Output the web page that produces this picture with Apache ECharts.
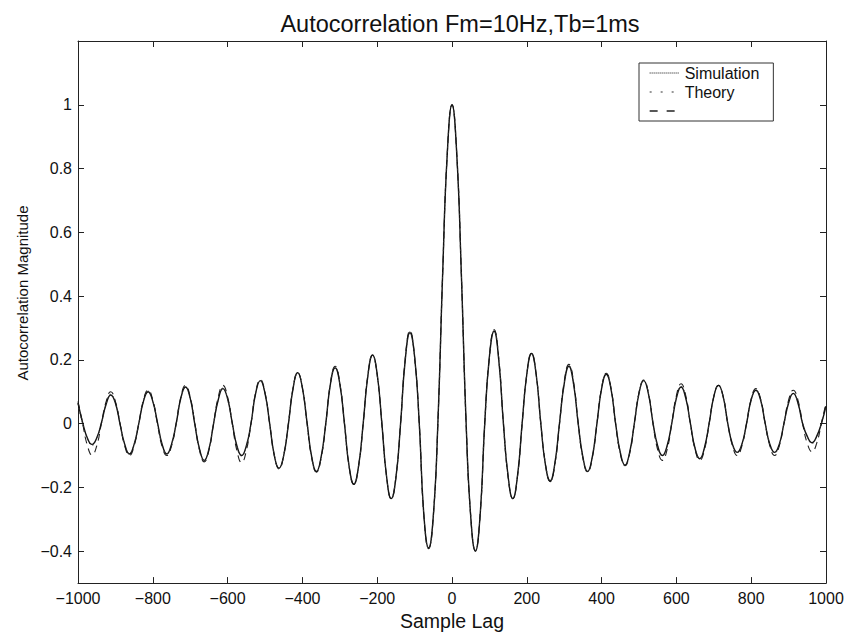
<!DOCTYPE html>
<html>
<head>
<meta charset="utf-8">
<script src="https://cdn.jsdelivr.net/npm/echarts@6/dist/echarts.min.js"></script>
<style>
  html, body { margin: 0; padding: 0; background: #fff; }
  #chart { width: 847px; height: 636px; }
</style>
</head>
<body>
<div id="chart"></div>
<script>
// Sample lags (x grid, 12.5-sample spacing) from -1000 to 1000
const lags = Array.from({ length: 161 }, (_, i) => -1000 + 12.5 * i);

// Values at each lag
const simulation = [
  0.065, 0.003, -0.045, -0.065, -0.045, 0.002, 0.060, 0.090, 0.065, -0.002,
  -0.065, -0.095, -0.065, 0.000, 0.070, 0.100, 0.070, 0.003, -0.065, -0.095,
  -0.065, 0.000, 0.080, 0.115, 0.080, -0.003, -0.080, -0.115, -0.080, 0.000,
  0.075, 0.110, 0.078, 0.002, -0.070, -0.100, -0.070, 0.000, 0.095, 0.135,
  0.095, 0.000, -0.100, -0.140, -0.100, -0.002, 0.110, 0.160, 0.112, 0.003,
  -0.105, -0.150, -0.105, 0.000, 0.125, 0.175, 0.125, 0.000, -0.135, -0.190,
  -0.135, 0.000, 0.150, 0.215, 0.155, 0.000, -0.165, -0.235, -0.170, 0.000,
  0.200, 0.285, 0.210, 0.000, -0.290, -0.390, -0.290, 0.010, 0.470, 0.850,
  1.000,
  0.850, 0.470, 0.010, -0.290, -0.400, -0.290, 0.000, 0.210, 0.290, 0.200,
  0.000, -0.165, -0.235, -0.165, 0.000, 0.155, 0.220, 0.155, 0.000, -0.130,
  -0.180, -0.125, 0.002, 0.125, 0.180, 0.125, 0.000, -0.105, -0.150, -0.105,
  0.000, 0.110, 0.155, 0.110, 0.000, -0.090, -0.130, -0.090, 0.000, 0.095,
  0.135, 0.095, 0.002, -0.070, -0.100, -0.070, 0.000, 0.080, 0.115, 0.080,
  0.000, -0.078, -0.110, -0.075, 0.000, 0.085, 0.120, 0.085, 0.000, -0.065,
  -0.090, -0.065, 0.000, 0.075, 0.105, 0.075, 0.000, -0.065, -0.090, -0.065,
  0.000, 0.065, 0.095, 0.065, 0.000, -0.040, -0.060, -0.040, 0.000, 0.055
];

const theory = [
  0.062, 0.000, -0.047, -0.068, -0.047, 0.000, 0.062, 0.092, 0.064, 0.000,
  -0.066, -0.094, -0.066, 0.000, 0.072, 0.102, 0.071, 0.000, -0.066, -0.094,
  -0.066, 0.000, 0.080, 0.114, 0.081, 0.000, -0.080, -0.114, -0.080, 0.000,
  0.076, 0.112, 0.077, 0.000, -0.072, -0.102, -0.071, 0.000, 0.096, 0.135,
  0.096, 0.000, -0.099, -0.140, -0.099, 0.000, 0.111, 0.158, 0.111, 0.000,
  -0.106, -0.152, -0.106, 0.000, 0.125, 0.177, 0.125, 0.000, -0.134, -0.188,
  -0.134, 0.000, 0.152, 0.215, 0.152, 0.000, -0.166, -0.236, -0.168, 0.000,
  0.202, 0.288, 0.208, 0.000, -0.292, -0.392, -0.290, 0.010, 0.470, 0.850,
  1.000,
  0.850, 0.470, 0.010, -0.290, -0.398, -0.290, 0.000, 0.208, 0.292, 0.202,
  0.000, -0.166, -0.234, -0.166, 0.000, 0.154, 0.219, 0.154, 0.000, -0.128,
  -0.181, -0.127, 0.000, 0.127, 0.181, 0.127, 0.000, -0.106, -0.151, -0.106,
  0.000, 0.111, 0.156, 0.111, 0.000, -0.092, -0.131, -0.092, 0.000, 0.096,
  0.136, 0.096, 0.000, -0.072, -0.102, -0.072, 0.000, 0.082, 0.117, 0.082,
  0.000, -0.077, -0.109, -0.077, 0.000, 0.085, 0.119, 0.085, 0.000, -0.066,
  -0.092, -0.066, 0.000, 0.075, 0.106, 0.075, 0.000, -0.066, -0.092, -0.066,
  0.000, 0.066, 0.094, 0.066, 0.000, -0.042, -0.062, -0.042, 0.000, 0.055
];

const third = [
  0.070, 0.000, -0.068, -0.098, -0.070, 0.000, 0.068, 0.100, 0.070, 0.000,
  -0.070, -0.100, -0.070, 0.000, 0.074, 0.105, 0.074, 0.000, -0.072, -0.100,
  -0.070, 0.000, 0.084, 0.120, 0.084, 0.000, -0.084, -0.120, -0.084, 0.000,
  0.084, 0.120, 0.084, 0.000, -0.085, -0.122, -0.085, 0.000, 0.098, 0.138,
  0.098, 0.000, -0.100, -0.142, -0.100, 0.000, 0.112, 0.160, 0.112, 0.000,
  -0.108, -0.152, -0.108, 0.000, 0.128, 0.180, 0.128, 0.000, -0.135, -0.190,
  -0.135, 0.000, 0.152, 0.215, 0.152, 0.000, -0.166, -0.235, -0.168, 0.000,
  0.205, 0.292, 0.208, 0.000, -0.292, -0.392, -0.290, 0.010, 0.470, 0.850,
  1.000,
  0.850, 0.470, 0.010, -0.290, -0.398, -0.290, 0.000, 0.210, 0.295, 0.205,
  0.000, -0.166, -0.235, -0.166, 0.000, 0.155, 0.220, 0.155, 0.000, -0.128,
  -0.182, -0.128, 0.000, 0.132, 0.186, 0.132, 0.000, -0.108, -0.152, -0.108,
  0.000, 0.112, 0.158, 0.112, 0.000, -0.094, -0.132, -0.094, 0.000, 0.097,
  0.137, 0.097, 0.000, -0.082, -0.115, -0.082, 0.000, 0.088, 0.125, 0.088,
  0.000, -0.082, -0.115, -0.082, 0.000, 0.085, 0.120, 0.085, 0.000, -0.070,
  -0.100, -0.070, 0.000, 0.078, 0.110, 0.078, 0.000, -0.070, -0.100, -0.070,
  0.000, 0.074, 0.105, 0.074, 0.000, -0.062, -0.088, -0.062, 0.000, 0.065
];

const seriesNames = ['Simulation', 'Theory', ' '];
const yTicks = [-0.4, -0.2, 0, 0.2, 0.4, 0.6, 0.8, 1];
const titleText = 'Autocorrelation Fm=10Hz,Tb=1ms';
const xName = 'Sample Lag';
const yName = 'Autocorrelation Magnitude';

const FONT = '"Liberation Sans", Arial, Helvetica, sans-serif';
const AX = '#222';
const fmt = v => String(v).replace('-', '\u2212');

function pairs(vals) { return lags.map((x, i) => [x, vals[i]]); }

const chart = echarts.init(document.getElementById('chart'), null, { renderer: 'svg' });

const baseX = {
  type: 'value', min: -1000, max: 1000, interval: 200,
  axisLine: { show: true, onZero: false, lineStyle: { color: AX, width: 1 } },
  axisTick: { show: true, inside: true, length: 6, lineStyle: { color: AX } },
  splitLine: { show: false }
};
const baseY = {
  type: 'value', min: -0.5, max: 1.2,
  axisLine: { show: true, onZero: false, lineStyle: { color: AX, width: 1 } },
  axisTick: { show: true, inside: true, length: 6, customValues: yTicks, lineStyle: { color: AX } },
  splitLine: { show: false }
};

chart.setOption({
  animation: false,
  backgroundColor: '#fff',
  color: ['#111', '#333', '#222'],
  title: {
    text: titleText, left: 455, textAlign: 'center', top: 7,
    textStyle: { fontFamily: FONT, fontSize: 23.5, fontWeight: 'normal', color: '#111' }
  },
  legend: {
    orient: 'vertical', left: 639, top: 63,
    data: [
      { name: seriesNames[0], lineStyle: { type: [1, 1], width: 1 } },
      { name: seriesNames[1], lineStyle: { type: [2, 9], width: 1.2 } },
      { name: seriesNames[2], lineStyle: { type: [8, 9], width: 1.3 } }
    ],
    itemWidth: 30, itemHeight: 14, itemGap: 3,
    padding: [2, 14, 2, 10],
    borderColor: '#333', borderWidth: 1, backgroundColor: '#fff',
    itemStyle: { opacity: 0 },
    selectedMode: false,
    textStyle: { fontFamily: FONT, fontSize: 16, color: '#111' }
  },
  grid: { left: 78, right: 21, top: 41, bottom: 46, containLabel: false },
  xAxis: [
    Object.assign({}, baseX, {
      position: 'bottom',
      name: xName, nameLocation: 'middle', nameGap: 21,
      nameTextStyle: { fontFamily: FONT, fontSize: 19.5, color: '#111' },
      axisLabel: { show: true, margin: 7, formatter: fmt, fontFamily: FONT, fontSize: 16, color: '#111' }
    }),
    Object.assign({}, baseX, { position: 'top', axisLabel: { show: false } })
  ],
  yAxis: [
    Object.assign({}, baseY, {
      position: 'left',
      name: yName, nameLocation: 'middle', nameGap: 48, nameRotate: 90,
      nameTextStyle: { fontFamily: FONT, fontSize: 15, color: '#111', padding: [0, 0, 0, 38] },
      axisLabel: { show: true, margin: 6, customValues: yTicks, formatter: fmt, fontFamily: FONT, fontSize: 16, color: '#111' }
    }),
    Object.assign({}, baseY, { position: 'right', axisLabel: { show: false } })
  ],
  series: [
    {
      name: seriesNames[0], type: 'line', data: pairs(simulation),
      smooth: 0.5, symbol: 'none', showSymbol: false, z: 3,
      itemStyle: { color: '#111' },
      lineStyle: { color: '#111', width: 1.4, type: 'solid' }
    },
    {
      name: seriesNames[1], type: 'line', data: pairs(theory),
      smooth: 0.5, symbol: 'none', showSymbol: false, z: 4,
      itemStyle: { color: '#333' },
      lineStyle: { color: '#333', width: 1, type: [1.5, 3] }
    },
    {
      name: seriesNames[2], type: 'line', data: pairs(third),
      smooth: 0.5, symbol: 'none', showSymbol: false, z: 2,
      itemStyle: { color: '#222' },
      lineStyle: { color: '#222', width: 1.1, type: [7, 5] }
    }
  ]
});
</script>
</body>
</html>
